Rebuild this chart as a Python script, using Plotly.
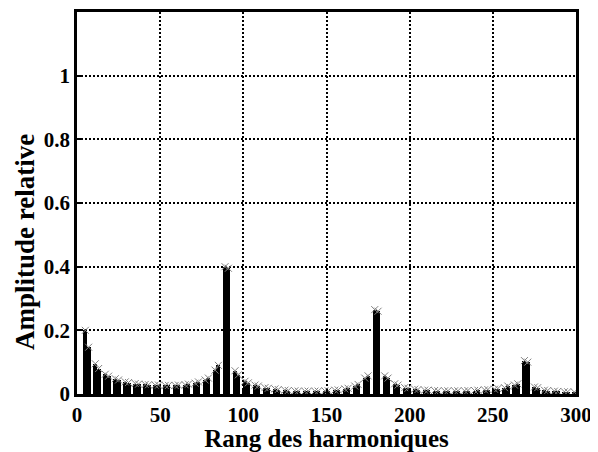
import plotly.graph_objects as go

# Harmonic ranks (6k-1, 6k+1) and relative amplitudes
harmonics = [5, 7, 11, 13, 17, 19, 23, 25, 29, 31, 35, 37, 41, 43, 47, 49, 53, 55,
             59, 61, 65, 67, 71, 73, 77, 79, 83, 85, 89, 91, 95, 97, 101, 103,
             107, 109, 113, 115, 119, 121, 125, 127, 131, 133, 137, 139, 143, 145,
             149, 151, 155, 157, 161, 163, 167, 169, 173, 175, 179, 181, 185, 187,
             191, 193, 197, 199, 203, 205, 209, 211, 215, 217, 221, 223, 227, 229,
             233, 235, 239, 241, 245, 247, 251, 253, 257, 259, 263, 265, 269, 271,
             275, 277, 281, 283, 287, 289, 293, 295, 299]
amplitudes = [0.200, 0.147, 0.095, 0.080, 0.062, 0.056, 0.048, 0.044, 0.038, 0.036,
              0.033, 0.031, 0.030, 0.029, 0.028, 0.028, 0.027, 0.027, 0.027, 0.028,
              0.029, 0.031, 0.034, 0.038, 0.044, 0.050, 0.075, 0.090, 0.400, 0.395,
              0.073, 0.060, 0.040, 0.035, 0.028, 0.025, 0.020, 0.018, 0.016, 0.014,
              0.012, 0.011, 0.010, 0.009, 0.009, 0.009, 0.009, 0.009, 0.010, 0.010,
              0.012, 0.013, 0.016, 0.018, 0.025, 0.030, 0.050, 0.057, 0.265, 0.260,
              0.057, 0.050, 0.032, 0.028, 0.020, 0.018, 0.015, 0.014, 0.012, 0.012,
              0.011, 0.010, 0.010, 0.010, 0.010, 0.010, 0.010, 0.011, 0.011, 0.012,
              0.013, 0.014, 0.015, 0.017, 0.020, 0.025, 0.028, 0.032, 0.105, 0.100,
              0.022, 0.020, 0.012, 0.011, 0.009, 0.008, 0.007, 0.007, 0.006]

x_ticks = [0, 50, 100, 150, 200, 250, 300]
x_tick_text = ["0", "50", "100", "150", "200", "250", "300"]
y_ticks = [0, 0.2, 0.4, 0.6, 0.8, 1]
y_tick_text = ["0", "0.2", "0.4", "0.6", "0.8", "1"]
x_title = "Rang des harmoniques"
y_title = "Amplitude relative"

font_family = "Liberation Serif"

fig = go.Figure()
fig.add_trace(go.Bar(
    x=harmonics, y=amplitudes, width=2.4,
    marker=dict(color="black", line=dict(width=0)),
    showlegend=False,
))
fig.add_trace(go.Scatter(
    x=harmonics, y=amplitudes, mode="markers",
    marker=dict(symbol="x-thin-open", size=7, color="#808080",
                line=dict(width=1, color="#808080")),
    showlegend=False,
))

axis_common = dict(
    showline=True, linewidth=2.5, linecolor="black", mirror=True,
    showgrid=True, gridcolor="black", griddash="2px,2px", gridwidth=1.5,
    ticks="inside", ticklen=5, tickwidth=2, tickcolor="black",
    zeroline=False, automargin=False,
    tickfont=dict(family=font_family, size=21, color="black"),
)

fig.update_layout(
    width=590, height=444,
    margin=dict(l=69, r=22, t=4, b=58),
    paper_bgcolor="white", plot_bgcolor="white",
    bargap=0,
    xaxis=dict(range=[0, 300], tickvals=x_ticks,
               ticktext=["<b>%s</b>" % t for t in x_tick_text],
               title=dict(text="<b>%s</b>" % x_title, standoff=2,
                          font=dict(family=font_family, size=25, color="black")),
               **axis_common),
    yaxis=dict(range=[0, 1.2], tickvals=y_ticks,
               ticktext=["<b>%s</b>" % t for t in y_tick_text],
               **axis_common),
)

fig.add_annotation(
    text="<b>%s</b>" % y_title, textangle=-90,
    xref="paper", yref="paper", x=-0.104, y=0.398,
    xanchor="center", yanchor="middle", showarrow=False,
    font=dict(family=font_family, size=27, color="black"),
)

fig.write_html("out.html")
